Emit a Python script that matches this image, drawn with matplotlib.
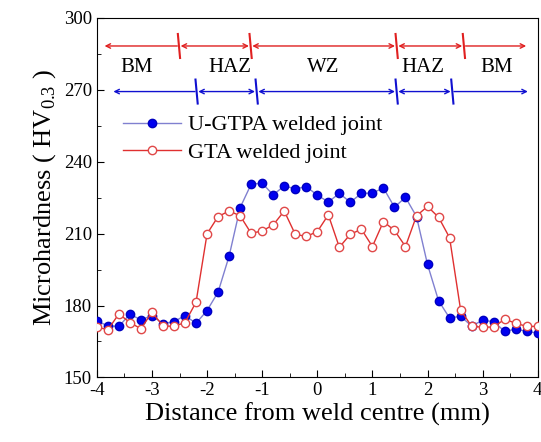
import numpy as np
import matplotlib.pyplot as plt
from matplotlib.ticker import MultipleLocator

plt.rcParams["font.family"] = ["Liberation Serif", "DejaVu Serif"]
plt.rcParams["mathtext.fontset"] = "custom"
plt.rcParams["mathtext.rm"] = "Liberation Serif"
plt.rcParams["axes.unicode_minus"] = False

# distance from weld centre, 0.2 mm steps
dist = np.round(np.arange(-4, 4.01, 0.2), 1)

ugtpa = [173.6, 171.5, 171.3, 176.4, 174.0, 175.8, 172.4, 173.3, 175.8, 172.6,
         177.9, 185.6, 200.6, 220.8, 230.6, 231.0, 226.1, 229.9, 228.6, 229.6,
         226.0, 223.2, 226.7, 223.1, 226.7, 226.9, 229.0, 221.0, 225.1, 217.1,
         197.1, 182.0, 174.8, 175.5, 171.5, 173.8, 173.3, 169.2, 170.2, 169.2,
         168.5]
gta = [171.0, 169.9, 176.5, 172.9, 170.3, 177.2, 171.5, 171.3, 172.9, 181.4,
       209.9, 217.1, 219.4, 217.4, 210.1, 211.1, 213.6, 219.4, 209.7, 208.8,
       210.8, 217.8, 204.3, 209.7, 211.8, 204.6, 215.0, 211.3, 204.6, 217.4,
       221.3, 216.8, 208.3, 178.2, 171.3, 171.0, 171.0, 174.3, 172.6, 171.3,
       171.3]

# zone boundaries (mm) for the two joints
gta_bounds = [-2.51, -1.21, 1.44, 2.66]
ugtpa_bounds = [-2.19, -1.10, 1.44, 2.45]
zone_names = ["BM", "HAZ", "WZ", "HAZ", "BM"]
zone_x = [-3.28, -1.59, 0.11, 1.92, 3.25]

fig = plt.figure(figsize=(5.41, 4.42), dpi=100)
ax = fig.add_axes([0.179, 0.146, 0.815, 0.814])

ax.plot(dist, ugtpa, color="#8080d0", lw=1, marker="o", ms=6,
        mfc="#0000f0", mec="#0000c0", label="U-GTPA welded joint", zorder=3)
ax.plot(dist, gta, color="#e03030", lw=1, marker="o", ms=6,
        mfc="white", mec="#e04848", label="GTA welded joint", zorder=4)


def zone_row(bounds, y, ends, color, bar_h):
    edges = [ends[0]] + bounds + [ends[1]]
    for i in range(len(edges) - 1):
        a, b = edges[i], edges[i + 1]
        if i == 0:
            style = "<-"
        elif i == len(edges) - 2:
            style = "->"
        else:
            style = "<->"
        ax.annotate("", xy=(b - 0.03, y), xytext=(a + 0.03, y),
                    arrowprops=dict(arrowstyle=style, color=color, lw=1,
                                    mutation_scale=8, shrinkA=0, shrinkB=0))
    for bx in bounds:
        ax.plot([bx - 0.02, bx + 0.02], [y + bar_h, y - bar_h], color=color, lw=1.5)


zone_row(gta_bounds, 288.2, (-3.89, 3.82), "#e02020", 5)
zone_row(ugtpa_bounds, 269.2, (-3.73, 3.85), "#1010d0", 5)
for x, name in zip(zone_x, zone_names):
    ax.text(x, 279.3, name, ha="center", va="center", fontsize=15)

ax.set_xlim(-4, 4)
ax.set_ylim(150, 300)
ax.xaxis.set_major_locator(MultipleLocator(1))
ax.xaxis.set_minor_locator(MultipleLocator(0.5))
ax.yaxis.set_major_locator(MultipleLocator(30))
ax.yaxis.set_minor_locator(MultipleLocator(15))
ax.tick_params(which="both", direction="in", labelsize=13.5)
ax.tick_params(which="major", length=5)
ax.tick_params(which="minor", length=3)
ax.set_xlabel("Distance from weld centre (mm)", fontsize=19, labelpad=2)
ax.set_ylabel(r"Microhardness ( HV$_{0.3}$ )", fontsize=19)

ax.legend(loc="upper left", bbox_to_anchor=(0.06, 0.73), frameon=False,
          fontsize=16, handlelength=2.6, handletextpad=0.3, labelspacing=0.3,
          borderpad=0, borderaxespad=0)

fig.savefig("out.png", dpi=100)
